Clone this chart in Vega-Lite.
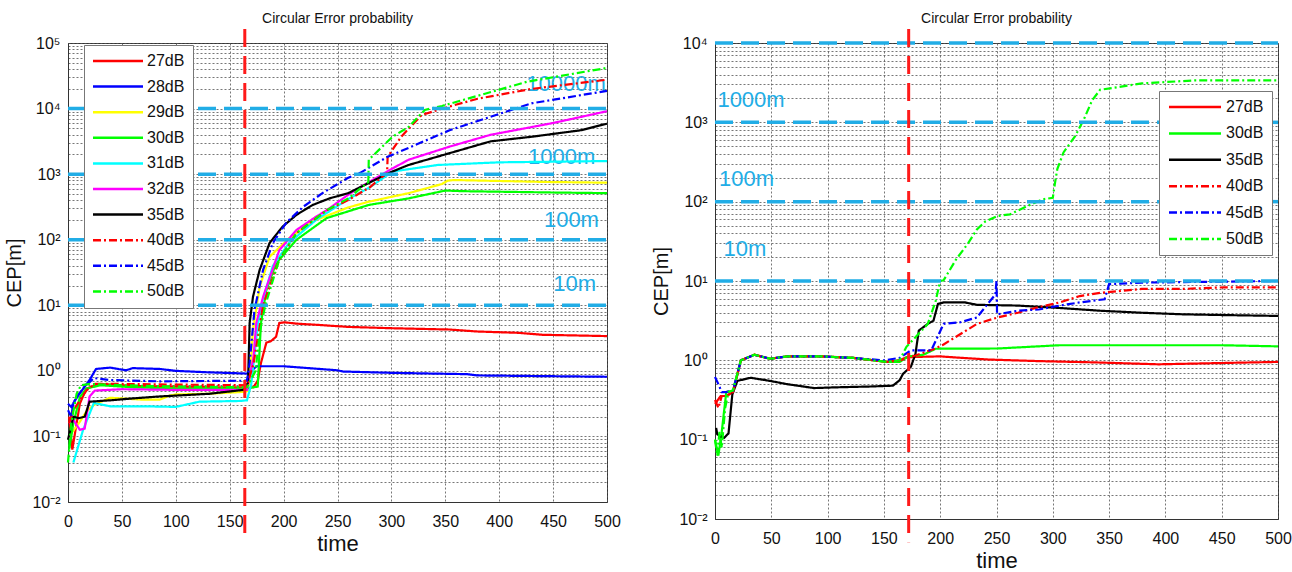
{
  "$schema": "https://vega.github.io/schema/vega-lite/v6.json",
  "background": "white",
  "padding": {"left": 4, "top": 11, "right": 5, "bottom": 5},
  "spacing": 30,
  "config": {
    "font": "Liberation Sans",
    "view": {"stroke": "#333", "strokeWidth": 1},
    "axis": {
      "gridColor": "#555", "gridDash": [2, 2], "gridOpacity": 0.8, "gridWidth": 1,
      "domainColor": "#333", "ticks": false,
      "labelFont": "Liberation Sans", "labelFontSize": 16, "labelColor": "#111",
      "titleFont": "Liberation Sans", "titleFontWeight": "normal", "titleColor": "#111"
    },
    "title": {"font": "Liberation Sans", "fontSize": 14, "fontWeight": "normal", "color": "#111", "offset": 2},
    "legend": {"labelFont": "Liberation Sans", "labelFontSize": 16, "labelColor": "#111"}
  },
  "resolve": {
    "scale": {"color": "independent", "strokeDash": "independent"},
    "legend": {"color": "independent", "strokeDash": "independent"}
  },
  "datasets": {
    "L": [
      {"s":"27dB","t":1,"v":0.2},{"s":"27dB","t":4,"v":0.063},{"s":"27dB","t":7,"v":0.126},{"s":"27dB","t":11,"v":0.316},{"s":"27dB","t":17,"v":0.537},{"s":"27dB","t":30,"v":0.631},{"s":"27dB","t":60,"v":0.589},{"s":"27dB","t":100,"v":0.575},{"s":"27dB","t":140,"v":0.562},{"s":"27dB","t":172,"v":0.562},{"s":"27dB","t":176,"v":0.708},{"s":"27dB","t":179,"v":1.318},{"s":"27dB","t":184,"v":2.69},{"s":"27dB","t":188,"v":2.82},{"s":"27dB","t":193,"v":3.31},{"s":"27dB","t":196,"v":5.37},{"s":"27dB","t":201,"v":5.5},{"s":"27dB","t":212,"v":5.25},{"s":"27dB","t":233,"v":5.01},{"s":"27dB","t":260,"v":4.68},{"s":"27dB","t":300,"v":4.47},{"s":"27dB","t":354,"v":4.27},{"s":"27dB","t":380,"v":3.98},{"s":"27dB","t":418,"v":3.8},{"s":"27dB","t":440,"v":3.55},{"s":"27dB","t":500,"v":3.39},
      {"s":"28dB","t":0,"v":0.251},{"s":"28dB","t":3,"v":0.2},{"s":"28dB","t":5,"v":0.324},{"s":"28dB","t":11,"v":0.457},{"s":"28dB","t":20,"v":0.724},{"s":"28dB","t":26,"v":1.07},{"s":"28dB","t":39,"v":1.12},{"s":"28dB","t":54,"v":1.02},{"s":"28dB","t":60,"v":1.1},{"s":"28dB","t":85,"v":1.07},{"s":"28dB","t":100,"v":1.0},{"s":"28dB","t":130,"v":0.95},{"s":"28dB","t":166,"v":0.91},{"s":"28dB","t":170,"v":1.0},{"s":"28dB","t":175,"v":1.175},{"s":"28dB","t":200,"v":1.175},{"s":"28dB","t":250,"v":1.02},{"s":"28dB","t":255,"v":0.977},{"s":"28dB","t":300,"v":0.933},{"s":"28dB","t":370,"v":0.891},{"s":"28dB","t":380,"v":0.851},{"s":"28dB","t":500,"v":0.813},
      {"s":"29dB","t":1,"v":0.1},{"s":"29dB","t":10,"v":0.158},{"s":"29dB","t":17,"v":0.24},{"s":"29dB","t":24,"v":0.302},{"s":"29dB","t":39,"v":0.389},{"s":"29dB","t":70,"v":0.363},{"s":"29dB","t":85,"v":0.363},{"s":"29dB","t":94,"v":0.417},{"s":"29dB","t":100,"v":0.437},{"s":"29dB","t":130,"v":0.447},{"s":"29dB","t":164,"v":0.479},{"s":"29dB","t":168,"v":0.501},{"s":"29dB","t":171.6,"v":4.17},{"s":"29dB","t":177.8,"v":19.05},{"s":"29dB","t":187,"v":55},{"s":"29dB","t":205.5,"v":107},{"s":"29dB","t":227,"v":190.5},{"s":"29dB","t":259.5,"v":309},{"s":"29dB","t":279,"v":380},{"s":"29dB","t":316,"v":513},{"s":"29dB","t":347,"v":708},{"s":"29dB","t":352,"v":794},{"s":"29dB","t":358,"v":813},{"s":"29dB","t":445,"v":759},{"s":"29dB","t":500,"v":741},
      {"s":"30dB","t":1,"v":0.063},{"s":"30dB","t":5,"v":0.158},{"s":"30dB","t":11,"v":0.398},{"s":"30dB","t":17,"v":0.537},{"s":"30dB","t":30,"v":0.603},{"s":"30dB","t":60,"v":0.562},{"s":"30dB","t":100,"v":0.537},{"s":"30dB","t":165,"v":0.537},{"s":"30dB","t":176,"v":0.575},{"s":"30dB","t":179,"v":5.37},{"s":"30dB","t":184,"v":17},{"s":"30dB","t":193,"v":43.7},{"s":"30dB","t":212,"v":100},{"s":"30dB","t":240,"v":214},{"s":"30dB","t":279,"v":339},{"s":"30dB","t":316,"v":427},{"s":"30dB","t":350,"v":562},{"s":"30dB","t":366,"v":550},{"s":"30dB","t":449,"v":525},{"s":"30dB","t":500,"v":513},
      {"s":"31dB","t":5,"v":0.04},{"s":"31dB","t":14,"v":0.126},{"s":"31dB","t":24,"v":0.324},{"s":"31dB","t":39,"v":0.288},{"s":"31dB","t":70,"v":0.288},{"s":"31dB","t":100,"v":0.282},{"s":"31dB","t":122,"v":0.339},{"s":"31dB","t":159,"v":0.347},{"s":"31dB","t":166,"v":0.355},{"s":"31dB","t":170,"v":0.631},{"s":"31dB","t":176,"v":5.01},{"s":"31dB","t":181,"v":12.6},{"s":"31dB","t":190,"v":39.8},{"s":"31dB","t":205,"v":89},{"s":"31dB","t":230,"v":200},{"s":"31dB","t":260,"v":417},{"s":"31dB","t":280,"v":631},{"s":"31dB","t":301,"v":1096},{"s":"31dB","t":343,"v":1380},{"s":"31dB","t":400,"v":1514},{"s":"31dB","t":500,"v":1585},
      {"s":"32dB","t":1,"v":0.158},{"s":"32dB","t":5,"v":0.178},{"s":"32dB","t":11,"v":0.126},{"s":"32dB","t":15.5,"v":0.132},{"s":"32dB","t":20,"v":0.407},{"s":"32dB","t":25,"v":0.501},{"s":"32dB","t":50,"v":0.525},{"s":"32dB","t":100,"v":0.513},{"s":"32dB","t":166,"v":0.513},{"s":"32dB","t":172,"v":1.58},{"s":"32dB","t":174.7,"v":5.37},{"s":"32dB","t":181,"v":13.5},{"s":"32dB","t":196,"v":69.2},{"s":"32dB","t":212,"v":141},{"s":"32dB","t":230,"v":224},{"s":"32dB","t":240,"v":282},{"s":"32dB","t":259.5,"v":479},{"s":"32dB","t":271,"v":631},{"s":"32dB","t":298,"v":1148},{"s":"32dB","t":316,"v":1660},{"s":"32dB","t":354,"v":2630},{"s":"32dB","t":392,"v":3981},{"s":"32dB","t":450,"v":6026},{"s":"32dB","t":500,"v":9120},
      {"s":"35dB","t":0,"v":0.089},{"s":"35dB","t":5,"v":0.2},{"s":"35dB","t":10,"v":0.19},{"s":"35dB","t":15.5,"v":0.2},{"s":"35dB","t":20,"v":0.339},{"s":"35dB","t":39,"v":0.355},{"s":"35dB","t":60,"v":0.38},{"s":"35dB","t":85,"v":0.407},{"s":"35dB","t":131,"v":0.447},{"s":"35dB","t":163,"v":0.513},{"s":"35dB","t":167,"v":0.661},{"s":"35dB","t":168.5,"v":5.37},{"s":"35dB","t":171.6,"v":13.5},{"s":"35dB","t":177.8,"v":34.7},{"s":"35dB","t":187,"v":89.1},{"s":"35dB","t":199,"v":158},{"s":"35dB","t":212,"v":240},{"s":"35dB","t":227,"v":339},{"s":"35dB","t":242.6,"v":427},{"s":"35dB","t":260,"v":513},{"s":"35dB","t":298,"v":1047},{"s":"35dB","t":316,"v":1380},{"s":"35dB","t":354,"v":2089},{"s":"35dB","t":392,"v":3162},{"s":"35dB","t":430,"v":3715},{"s":"35dB","t":476,"v":4677},{"s":"35dB","t":500,"v":5888},
      {"s":"40dB","t":1,"v":0.158},{"s":"40dB","t":5,"v":0.251},{"s":"40dB","t":11,"v":0.355},{"s":"40dB","t":17,"v":0.501},{"s":"40dB","t":25,"v":0.631},{"s":"40dB","t":50,"v":0.631},{"s":"40dB","t":100,"v":0.617},{"s":"40dB","t":166,"v":0.603},{"s":"40dB","t":172,"v":1.26},{"s":"40dB","t":177,"v":3.98},{"s":"40dB","t":181,"v":10},{"s":"40dB","t":196,"v":50.1},{"s":"40dB","t":212,"v":126},{"s":"40dB","t":240,"v":282},{"s":"40dB","t":259.5,"v":398},{"s":"40dB","t":280,"v":631},{"s":"40dB","t":296,"v":1047},{"s":"40dB","t":296.5,"v":1820},{"s":"40dB","t":309,"v":3715},{"s":"40dB","t":328,"v":7943},{"s":"40dB","t":347,"v":10000},{"s":"40dB","t":380,"v":14125},{"s":"40dB","t":430,"v":19953},{"s":"40dB","t":500,"v":27542},
      {"s":"45dB","t":0,"v":0.316},{"s":"45dB","t":3,"v":0.282},{"s":"45dB","t":8,"v":0.398},{"s":"45dB","t":15,"v":0.562},{"s":"45dB","t":24,"v":0.776},{"s":"45dB","t":39,"v":0.724},{"s":"45dB","t":85,"v":0.692},{"s":"45dB","t":166,"v":0.708},{"s":"45dB","t":168.5,"v":1.32},{"s":"45dB","t":173,"v":8.51},{"s":"45dB","t":181,"v":34.7},{"s":"45dB","t":190,"v":89.1},{"s":"45dB","t":202.5,"v":182},{"s":"45dB","t":218,"v":316},{"s":"45dB","t":236,"v":513},{"s":"45dB","t":259.5,"v":871},{"s":"45dB","t":271,"v":1047},{"s":"45dB","t":296,"v":1820},{"s":"45dB","t":354,"v":4677},{"s":"45dB","t":430,"v":12023},{"s":"45dB","t":500,"v":18621},
      {"s":"50dB","t":0,"v":0.04},{"s":"50dB","t":3,"v":0.158},{"s":"50dB","t":8,"v":0.447},{"s":"50dB","t":12,"v":0.603},{"s":"50dB","t":20,"v":0.631},{"s":"50dB","t":50,"v":0.603},{"s":"50dB","t":100,"v":0.575},{"s":"50dB","t":166,"v":0.562},{"s":"50dB","t":174,"v":1.0},{"s":"50dB","t":178,"v":3.98},{"s":"50dB","t":183,"v":10},{"s":"50dB","t":196,"v":50.1},{"s":"50dB","t":212,"v":126},{"s":"50dB","t":240,"v":282},{"s":"50dB","t":260,"v":427},{"s":"50dB","t":278.6,"v":759},{"s":"50dB","t":279,"v":1660},{"s":"50dB","t":301,"v":3715},{"s":"50dB","t":316,"v":5248},{"s":"50dB","t":331,"v":9550},{"s":"50dB","t":347,"v":10965},{"s":"50dB","t":426,"v":25704},{"s":"50dB","t":500,"v":41687}
    ],
    "R": [
      {"s":"27dB","t":0,"v":0.282},{"s":"27dB","t":5,"v":0.355},{"s":"27dB","t":10,"v":0.355},{"s":"27dB","t":16,"v":0.398},{"s":"27dB","t":23,"v":1.0},{"s":"27dB","t":35,"v":1.175},{"s":"27dB","t":49,"v":1.047},{"s":"27dB","t":64,"v":1.122},{"s":"27dB","t":94,"v":1.122},{"s":"27dB","t":123,"v":1.072},{"s":"27dB","t":153,"v":0.955},{"s":"27dB","t":164,"v":1.0},{"s":"27dB","t":170,"v":1.096},{"s":"27dB","t":200,"v":1.122},{"s":"27dB","t":210,"v":1.096},{"s":"27dB","t":243,"v":1.023},{"s":"27dB","t":288,"v":0.977},{"s":"27dB","t":335,"v":0.944},{"s":"27dB","t":394,"v":0.891},{"s":"27dB","t":463,"v":0.933},{"s":"27dB","t":500,"v":0.955},
      {"s":"30dB","t":0,"v":0.1},{"s":"30dB","t":3,"v":0.063},{"s":"30dB","t":6,"v":0.126},{"s":"30dB","t":10,"v":0.398},{"s":"30dB","t":16,"v":0.417},{"s":"30dB","t":23,"v":1.0},{"s":"30dB","t":35,"v":1.175},{"s":"30dB","t":49,"v":1.047},{"s":"30dB","t":64,"v":1.122},{"s":"30dB","t":94,"v":1.122},{"s":"30dB","t":123,"v":1.072},{"s":"30dB","t":153,"v":0.955},{"s":"30dB","t":164,"v":0.955},{"s":"30dB","t":172,"v":1.122},{"s":"30dB","t":185,"v":1.175},{"s":"30dB","t":196,"v":1.4},{"s":"30dB","t":251,"v":1.41},{"s":"30dB","t":306,"v":1.55},{"s":"30dB","t":450,"v":1.55},{"s":"30dB","t":500,"v":1.5},
      {"s":"35dB","t":1,"v":0.141},{"s":"35dB","t":2,"v":0.117},{"s":"35dB","t":8,"v":0.105},{"s":"35dB","t":12,"v":0.12},{"s":"35dB","t":15.4,"v":0.372},{"s":"35dB","t":19.8,"v":0.55},{"s":"35dB","t":31.6,"v":0.603},{"s":"35dB","t":49,"v":0.55},{"s":"35dB","t":64,"v":0.501},{"s":"35dB","t":88,"v":0.447},{"s":"35dB","t":108,"v":0.457},{"s":"35dB","t":138,"v":0.468},{"s":"35dB","t":158,"v":0.479},{"s":"35dB","t":164,"v":0.562},{"s":"35dB","t":167,"v":0.676},{"s":"35dB","t":174,"v":0.832},{"s":"35dB","t":178,"v":1.2},{"s":"35dB","t":181,"v":2.37},{"s":"35dB","t":189,"v":2.88},{"s":"35dB","t":194,"v":3.16},{"s":"35dB","t":198,"v":5.13},{"s":"35dB","t":203,"v":5.37},{"s":"35dB","t":222,"v":5.37},{"s":"35dB","t":232.6,"v":5.01},{"s":"35dB","t":269,"v":4.9},{"s":"35dB","t":306,"v":4.57},{"s":"35dB","t":342,"v":4.22},{"s":"35dB","t":379,"v":3.98},{"s":"35dB","t":416,"v":3.8},{"s":"35dB","t":452,"v":3.72},{"s":"35dB","t":500,"v":3.63},
      {"s":"40dB","t":0,"v":0.316},{"s":"40dB","t":3,"v":0.251},{"s":"40dB","t":6,"v":0.355},{"s":"40dB","t":10,"v":0.355},{"s":"40dB","t":16,"v":0.398},{"s":"40dB","t":23,"v":1.0},{"s":"40dB","t":35,"v":1.175},{"s":"40dB","t":49,"v":1.047},{"s":"40dB","t":64,"v":1.122},{"s":"40dB","t":94,"v":1.122},{"s":"40dB","t":123,"v":1.072},{"s":"40dB","t":153,"v":0.955},{"s":"40dB","t":164,"v":1.0},{"s":"40dB","t":178,"v":1.148},{"s":"40dB","t":196,"v":1.413},{"s":"40dB","t":203,"v":1.585},{"s":"40dB","t":232.6,"v":2.88},{"s":"40dB","t":251,"v":3.47},{"s":"40dB","t":269,"v":3.98},{"s":"40dB","t":287.5,"v":4.68},{"s":"40dB","t":306,"v":5.37},{"s":"40dB","t":324,"v":6.46},{"s":"40dB","t":342,"v":7.08},{"s":"40dB","t":379,"v":7.94},{"s":"40dB","t":416,"v":7.94},{"s":"40dB","t":452,"v":8.32},{"s":"40dB","t":500,"v":8.32},
      {"s":"45dB","t":0,"v":0.617},{"s":"45dB","t":3,"v":0.501},{"s":"45dB","t":6,"v":0.398},{"s":"45dB","t":10,"v":0.398},{"s":"45dB","t":16,"v":0.417},{"s":"45dB","t":23,"v":1.0},{"s":"45dB","t":35,"v":1.175},{"s":"45dB","t":49,"v":1.047},{"s":"45dB","t":64,"v":1.122},{"s":"45dB","t":94,"v":1.122},{"s":"45dB","t":123,"v":1.072},{"s":"45dB","t":150,"v":1.0},{"s":"45dB","t":164,"v":1.072},{"s":"45dB","t":174,"v":1.334},{"s":"45dB","t":192,"v":1.334},{"s":"45dB","t":203,"v":2.88},{"s":"45dB","t":218,"v":3.02},{"s":"45dB","t":232.6,"v":3.47},{"s":"45dB","t":249,"v":6.76},{"s":"45dB","t":250,"v":10},{"s":"45dB","t":250.5,"v":3.8},{"s":"45dB","t":269,"v":4.22},{"s":"45dB","t":287.5,"v":4.37},{"s":"45dB","t":306,"v":4.9},{"s":"45dB","t":324,"v":5.37},{"s":"45dB","t":346,"v":5.89},{"s":"45dB","t":350,"v":9.12},{"s":"45dB","t":379,"v":9.55},{"s":"45dB","t":500,"v":10},
      {"s":"50dB","t":0,"v":0.1},{"s":"50dB","t":2,"v":0.063},{"s":"50dB","t":4,"v":0.126},{"s":"50dB","t":6,"v":0.079},{"s":"50dB","t":9,"v":0.251},{"s":"50dB","t":12,"v":0.398},{"s":"50dB","t":16,"v":0.417},{"s":"50dB","t":23,"v":1.0},{"s":"50dB","t":35,"v":1.175},{"s":"50dB","t":49,"v":1.047},{"s":"50dB","t":64,"v":1.122},{"s":"50dB","t":94,"v":1.122},{"s":"50dB","t":123,"v":1.072},{"s":"50dB","t":153,"v":0.955},{"s":"50dB","t":164,"v":1.0},{"s":"50dB","t":170,"v":1.48},{"s":"50dB","t":178,"v":1.95},{"s":"50dB","t":189,"v":2.88},{"s":"50dB","t":196,"v":5.62},{"s":"50dB","t":200,"v":10},{"s":"50dB","t":203,"v":10.2},{"s":"50dB","t":214,"v":18.6},{"s":"50dB","t":225,"v":30.2},{"s":"50dB","t":232.6,"v":44.7},{"s":"50dB","t":240,"v":56.2},{"s":"50dB","t":251,"v":66.1},{"s":"50dB","t":262,"v":69.2},{"s":"50dB","t":276.6,"v":87.1},{"s":"50dB","t":291,"v":107},{"s":"50dB","t":300,"v":112},{"s":"50dB","t":302,"v":174},{"s":"50dB","t":304,"v":257},{"s":"50dB","t":309.5,"v":417},{"s":"50dB","t":320,"v":676},{"s":"50dB","t":328,"v":1122},{"s":"50dB","t":335,"v":1905},{"s":"50dB","t":342,"v":2570},{"s":"50dB","t":379,"v":3090},{"s":"50dB","t":427,"v":3388},{"s":"50dB","t":500,"v":3388}
    ]
  },
  "hconcat": [
    {
      "width": 539,
      "height": 459,
      "title": "Circular Error probability",
      "encoding": {
        "x": {"field": "t", "type": "quantitative", "scale": {"domain": [0, 500], "nice": false, "zero": false},
              "axis": {"values": [0,50,100,150,200,250,300,350,400,450,500], "title": "time", "titleFontSize": 22, "labelPadding": 11, "titlePadding": 4, "labelFlush": false}},
        "y": {"field": "v", "type": "quantitative", "scale": {"type": "log", "domain": [0.01, 100000], "nice": false},
              "axis": {"title": "CEP[m]", "titleFontSize": 20, "labelPadding": 8, "titlePadding": 7,
                       "values": [0.01,0.02,0.03,0.04,0.05,0.06,0.07,0.08,0.09,0.1,0.2,0.3,0.4,0.5,0.6,0.7,0.8,0.9,1,2,3,4,5,6,7,8,9,10,20,30,40,50,60,70,80,90,100,200,300,400,500,600,700,800,900,1000,2000,3000,4000,5000,6000,7000,8000,9000,10000,20000,30000,40000,50000,60000,70000,80000,90000,100000],
                       "labelExpr": "abs(log(datum.value)/LN10 - round(log(datum.value)/LN10)) < 0.001 ? '10' + replace(replace(replace(replace(replace(replace(replace('' + round(log(datum.value)/LN10), '-', '⁻'), '0', '⁰'), '1', '¹'), '2', '²'), '3', '³'), '4', '⁴'), '5', '⁵') : ''"}}
      },
      "layer": [
        {
          "data": {"values": [
            {"t": 462, "v": 24000, "label": "10000m"},
            {"t": 458, "v": 1820, "label": "1000m"},
            {"t": 467, "v": 200, "label": "100m"},
            {"t": 470, "v": 21.4, "label": "10m"}
          ]},
          "mark": {"type": "text", "fontSize": 22, "color": "#21ade6", "font": "Liberation Sans", "align": "center", "baseline": "middle"},
          "encoding": {"text": {"field": "label"}}
        },
        {
          "data": {"name": "L"},
          "mark": {"type": "line", "strokeWidth": 2.2},
          "encoding": {
            "color": {"field": "s", "type": "nominal",
              "scale": {"domain": ["27dB","28dB","29dB","30dB","31dB","32dB","35dB","40dB","45dB","50dB"],
                        "range": ["#ff0000","#0000ff","#ffff00","#00ff00","#00ffff","#ff00ff","#000000","#ff0000","#0000ff","#00ff00"]},
              "legend": {"title": null, "orient": "none", "legendX": 16, "legendY": 2, "fillColor": "white", "strokeColor": "#777", "padding": 8, "symbolType": "M0,0H50", "symbolSize": 4, "symbolOffset": -7, "labelOffset": 46, "symbolStrokeWidth": 2.5, "rowPadding": 9.6, "labelFontSize": 16}},
            "strokeDash": {"field": "s", "type": "nominal",
              "scale": {"domain": ["27dB","28dB","29dB","30dB","31dB","32dB","35dB","40dB","45dB","50dB"],
                        "range": [[1,0],[1,0],[1,0],[1,0],[1,0],[1,0],[1,0],[8,3,2,3],[8,3,2,3],[8,3,2,3]]},
              "legend": {"title": null, "orient": "none", "legendX": 16, "legendY": 2, "fillColor": "white", "strokeColor": "#777", "padding": 8, "symbolType": "M0,0H50", "symbolSize": 4, "symbolOffset": -7, "labelOffset": 46, "symbolStrokeWidth": 2.5, "rowPadding": 9.6, "labelFontSize": 16}},
            "order": {"field": "t", "type": "quantitative"}
          }
        },
        {
          "data": {"values": [
            {"t": 0, "t2": 500, "v": 10},
            {"t": 0, "t2": 500, "v": 100},
            {"t": 0, "t2": 500, "v": 1000},
            {"t": 0, "t2": 500, "v": 10000}
          ]},
          "mark": {"type": "rule", "color": "#21ade6", "strokeWidth": 3.5, "strokeDash": [18, 8]},
          "encoding": {"x2": {"field": "t2"}}
        },
        {
          "data": {"values": [{"t": 164, "v": 163000, "v2": 0.00245}]},
          "mark": {"type": "rule", "color": "#ff1a1a", "strokeWidth": 3, "strokeDash": [18, 9]},
          "encoding": {"y2": {"field": "v2"}}
        }
      ]
    },
    {
      "width": 563,
      "height": 476,
      "title": "Circular Error probability",
      "encoding": {
        "x": {"field": "t", "type": "quantitative", "scale": {"domain": [0, 500], "nice": false, "zero": false},
              "axis": {"values": [0,50,100,150,200,250,300,350,400,450,500], "title": "time", "titleFontSize": 22, "labelPadding": 11, "titlePadding": 4, "labelFlush": false}},
        "y": {"field": "v", "type": "quantitative", "scale": {"type": "log", "domain": [0.01, 10000], "nice": false},
              "axis": {"title": "CEP[m]", "titleFontSize": 20, "labelPadding": 8, "titlePadding": 7,
                       "values": [0.01,0.02,0.03,0.04,0.05,0.06,0.07,0.08,0.09,0.1,0.2,0.3,0.4,0.5,0.6,0.7,0.8,0.9,1,2,3,4,5,6,7,8,9,10,20,30,40,50,60,70,80,90,100,200,300,400,500,600,700,800,900,1000,2000,3000,4000,5000,6000,7000,8000,9000,10000],
                       "labelExpr": "abs(log(datum.value)/LN10 - round(log(datum.value)/LN10)) < 0.001 ? '10' + replace(replace(replace(replace(replace(replace(replace('' + round(log(datum.value)/LN10), '-', '⁻'), '0', '⁰'), '1', '¹'), '2', '²'), '3', '³'), '4', '⁴'), '5', '⁵') : ''"}}
      },
      "layer": [
        {
          "data": {"values": [
            {"t": 32, "v": 1905, "label": "1000m"},
            {"t": 28, "v": 195, "label": "100m"},
            {"t": 26.6, "v": 25.1, "label": "10m"}
          ]},
          "mark": {"type": "text", "fontSize": 22, "color": "#21ade6", "font": "Liberation Sans", "align": "center", "baseline": "middle"},
          "encoding": {"text": {"field": "label"}}
        },
        {
          "data": {"name": "R"},
          "mark": {"type": "line", "strokeWidth": 2.2},
          "encoding": {
            "color": {"field": "s", "type": "nominal",
              "scale": {"domain": ["27dB","30dB","35dB","40dB","45dB","50dB"],
                        "range": ["#ff0000","#00ff00","#000000","#ff0000","#0000ff","#00ff00"]},
              "legend": {"title": null, "orient": "none", "legendX": 444, "legendY": 48, "fillColor": "white", "strokeColor": "#777", "padding": 8, "symbolType": "M0,0H52", "symbolSize": 4, "symbolOffset": -6, "labelOffset": 49, "symbolStrokeWidth": 2.5, "rowPadding": 10.4, "labelFontSize": 16}},
            "strokeDash": {"field": "s", "type": "nominal",
              "scale": {"domain": ["27dB","30dB","35dB","40dB","45dB","50dB"],
                        "range": [[1,0],[1,0],[1,0],[8,3,2,3],[8,3,2,3],[8,3,2,3]]},
              "legend": {"title": null, "orient": "none", "legendX": 444, "legendY": 48, "fillColor": "white", "strokeColor": "#777", "padding": 8, "symbolType": "M0,0H52", "symbolSize": 4, "symbolOffset": -6, "labelOffset": 49, "symbolStrokeWidth": 2.5, "rowPadding": 10.4, "labelFontSize": 16}},
            "order": {"field": "t", "type": "quantitative"}
          }
        },
        {
          "data": {"values": [
            {"t": 0, "t2": 500, "v": 10},
            {"t": 0, "t2": 500, "v": 100},
            {"t": 0, "t2": 500, "v": 1000},
            {"t": 0, "t2": 500, "v": 10000}
          ]},
          "mark": {"type": "rule", "color": "#21ade6", "strokeWidth": 3.5, "strokeDash": [18, 8]},
          "encoding": {"x2": {"field": "t2"}}
        },
        {
          "data": {"values": [{"t": 172, "v": 15000, "v2": 0.0051}]},
          "mark": {"type": "rule", "color": "#ff1a1a", "strokeWidth": 3, "strokeDash": [18, 9]},
          "encoding": {"y2": {"field": "v2"}}
        }
      ]
    }
  ]
}
